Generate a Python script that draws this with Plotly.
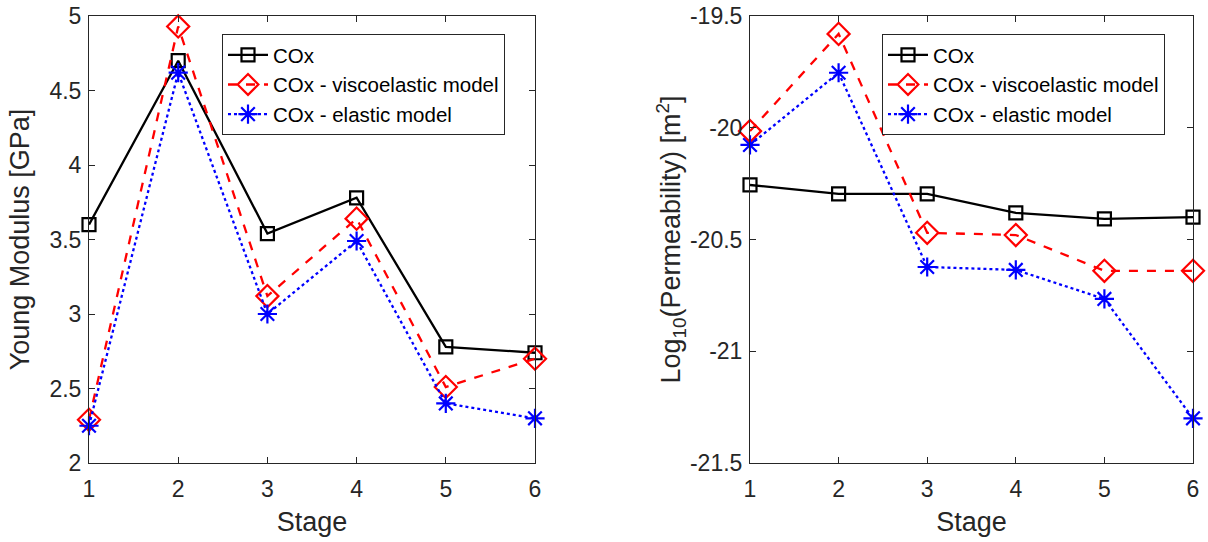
import plotly.graph_objects as go

stages = [1, 2, 3, 4, 5, 6]
names = ["COx", "COx - viscoelastic model", "COx - elastic model"]

young_cox = [3.60, 4.70, 3.54, 3.78, 2.78, 2.74]
young_visco = [2.29, 4.93, 3.12, 3.64, 2.51, 2.70]
young_elastic = [2.25, 4.62, 3.00, 3.49, 2.40, 2.30]

perm_cox = [-20.256, -20.296, -20.296, -20.381, -20.408, -20.400]
perm_visco = [-20.015, -19.580, -20.470, -20.480, -20.640, -20.640]
perm_elastic = [-20.077, -19.754, -20.623, -20.636, -20.766, -21.300]

y1_ticks = [2, 2.5, 3, 3.5, 4, 4.5, 5]
y1_labels = ["2", "2.5", "3", "3.5", "4", "4.5", "5"]
y2_ticks = [-21.5, -21, -20.5, -20, -19.5]
y2_labels = ["-21.5", "-21", "-20.5", "-20", "-19.5"]

styles = [
    dict(color="black", dash="solid", symbol="square-open", size=13),
    dict(color="red", dash="dash", symbol="diamond-open", size=17),
    dict(color="blue", dash="dot", symbol="asterisk-open", size=16),
]

fig = go.Figure()

left = [young_cox, young_visco, young_elastic]
right = [perm_cox, perm_visco, perm_elastic]

for (vals_set, xa, ya, lg) in [(left, "x", "y", "legend"), (right, "x2", "y2", "legend2")]:
    for i, (vals, st) in enumerate(zip(vals_set, styles)):
        fig.add_trace(go.Scatter(
            x=stages, y=vals, name=names[i], mode="lines+markers",
            line=dict(color=st["color"], dash=st["dash"], width=2.3),
            marker=dict(symbol=st["symbol"], size=st["size"], color=st["color"],
                        line=dict(color=st["color"], width=2.2)),
            xaxis=xa, yaxis=ya, legend=lg, cliponaxis=False))

axcol = "#262626"
font = "Liberation Sans, Arial, sans-serif"
TICK = 23
TITLE = 27

common_x = dict(
    range=[1, 6], tickvals=stages, ticks="inside", ticklen=6, tickcolor=axcol,
    showline=True, linecolor=axcol, linewidth=1, mirror="ticks",
    showgrid=False, zeroline=False, automargin=False, ticklabelstandoff=5,
    tickfont=dict(size=TICK, color=axcol, family=font),
    title=dict(text="Stage", font=dict(size=TITLE, color=axcol, family=font), standoff=11),
)

common_y = dict(
    ticks="inside", ticklen=6, tickcolor=axcol,
    showline=True, linecolor=axcol, linewidth=1, mirror="ticks",
    showgrid=False, zeroline=False, automargin=False, ticklabelstandoff=2,
    tickfont=dict(size=TICK, color=axcol, family=font),
)

W, H = 1208, 542
legend_common = dict(
    y=1 - 34 / H, xanchor="left", yanchor="top",
    bgcolor="white", bordercolor=axcol, borderwidth=1,
    font=dict(size=20.5, color="black", family=font),
    itemwidth=40, tracegroupgap=0,
)

fig.update_layout(
    width=W, height=H,
    margin=dict(l=0, r=0, t=0, b=0),
    paper_bgcolor="white", plot_bgcolor="white",
    font=dict(family=font, color=axcol),
    xaxis=dict(common_x, domain=[89 / W, 535 / W], anchor="y"),
    xaxis2=dict(common_x, domain=[750 / W, 1193 / W], anchor="y2"),
    yaxis=dict(
        common_y, range=[2, 5], tickvals=y1_ticks, ticktext=y1_labels,
        domain=[1 - 463 / H, 1 - 16 / H], anchor="x",
        title=dict(text="Young Modulus [GPa]", font=dict(size=TITLE, color=axcol, family=font), standoff=11),
    ),
    yaxis2=dict(
        common_y, range=[-21.5, -19.5], tickvals=y2_ticks, ticktext=y2_labels,
        domain=[1 - 463 / H, 1 - 16 / H], anchor="x2",
        title=dict(text="Log<sub>10</sub>(Permeability) [m<sup>2</sup>]",
                   font=dict(size=TITLE, color=axcol, family=font), standoff=1),
    ),
    legend=dict(legend_common, x=222 / W),
    legend2=dict(legend_common, x=882 / W),
    showlegend=True,
)

fig.write_html("out.html")
